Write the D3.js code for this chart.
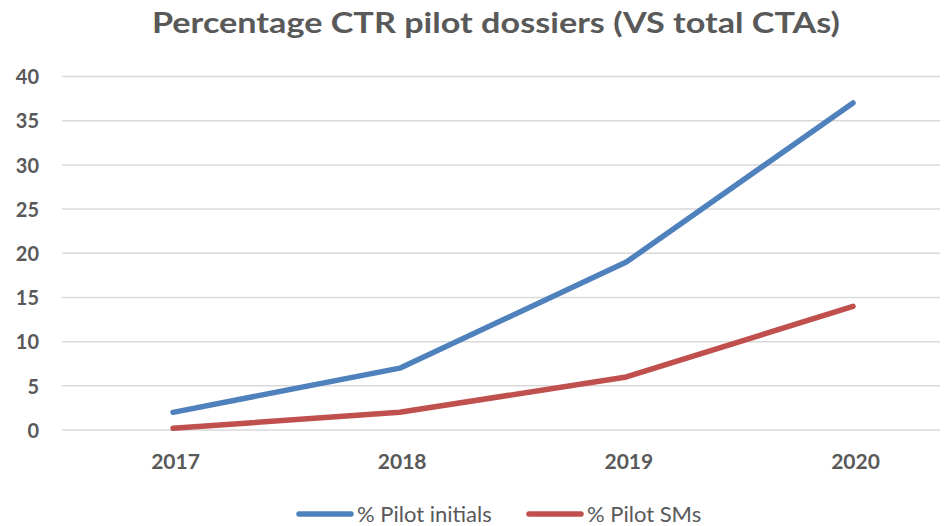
<!DOCTYPE html>
<html>
<head>
<meta charset="utf-8">
<script src="https://cdn.jsdelivr.net/npm/d3@7"></script>
<style>
  body { margin: 0; background: #fff; }
  text { font-family: Lato, "Open Sans", sans-serif; fill: #595959; }
</style>
</head>
<body>
<div class="canvas"></div>
<script>
const years = ['2017', '2018', '2019', '2020'];
const pilotInitials = [2, 7, 19, 37];
const pilotSMs = [0.2, 2, 6, 14];
const yTicks = [0, 5, 10, 15, 20, 25, 30, 35, 40];

const series = [
  { name: '% Pilot initials', values: pilotInitials, colour: '#4F81BD' },
  { name: '% Pilot SMs', values: pilotSMs, colour: '#C0504D' }
];

const dims = { width: 948, height: 526 };
const plot = { left: 62, right: 940, top: 76.5, bottom: 430 };

const svg = d3.select('.canvas')
  .append('svg')
  .attr('width', dims.width)
  .attr('height', dims.height);

// title
svg.append('text')
  .attr('x', 152)
  .attr('y', 33)
  .attr('textLength', 688)
  .attr('lengthAdjust', 'spacingAndGlyphs')
  .style('font-size', '28px')
  .style('font-weight', 'bold')
  .text('Percentage CTR pilot dossiers (VS total CTAs)');

// category positions (first and last point)
const x = d3.scalePoint()
  .domain(years)
  .range([173, 853]);

const y = d3.scaleLinear()
  .domain([0, 40])
  .range([plot.bottom, plot.top]);

// gridlines
svg.append('g')
  .selectAll('line')
  .data(yTicks)
  .enter()
  .append('line')
    .attr('x1', plot.left)
    .attr('x2', plot.right)
    .attr('y1', d => y(d))
    .attr('y2', d => y(d))
    .attr('stroke', '#d9d9d9')
    .attr('stroke-width', 1.5);

// y labels
const yAxis = svg.append('g')
  .attr('transform', `translate(39, 0)`)
  .call(d3.axisLeft(y).tickValues(yTicks).tickSize(0).tickPadding(0));
yAxis.select('.domain').remove();
yAxis.selectAll('text')
  .attr('dy', '0.36em')
  .style('font-size', '20px')
  .style('font-weight', 'bold')
  .style('font-family', 'Lato, sans-serif')
  .attr('fill', '#595959');

// x labels
const xAxis = svg.append('g')
  .attr('transform', `translate(2, 461)`)
  .call(d3.axisBottom(x).tickSize(0).tickPadding(0));
xAxis.select('.domain').remove();
xAxis.selectAll('text')
  .attr('dy', '0.36em')
  .style('font-size', '21px')
  .style('font-weight', 'bold')
  .style('font-family', 'Lato, sans-serif')
  .attr('fill', '#595959');

const line = d3.line()
  .x((d, i) => x(years[i]))
  .y(d => y(d));

svg.append('g')
  .selectAll('path')
  .data(series)
  .enter()
  .append('path')
    .attr('d', d => line(d.values))
    .attr('fill', 'none')
    .attr('stroke', d => d.colour)
    .attr('stroke-width', 5.5)
    .attr('stroke-linejoin', 'round')
    .attr('stroke-linecap', 'round');

// legend
const legendX = [297, 527];
const legend = svg.selectAll('.legend')
  .data(series)
  .enter()
  .append('g')
  .attr('class', 'legend')
  .attr('transform', (d, i) => `translate(${legendX[i]}, 514)`);

legend.append('line')
  .attr('x1', 2)
  .attr('x2', 54)
  .attr('stroke', d => d.colour)
  .attr('stroke-width', 5.5)
  .attr('stroke-linecap', 'round');

legend.append('text')
  .attr('x', 60)
  .attr('dy', '0.36em')
  .style('font-size', '22px')
  .text(d => d.name);
</script>
</body>
</html>
